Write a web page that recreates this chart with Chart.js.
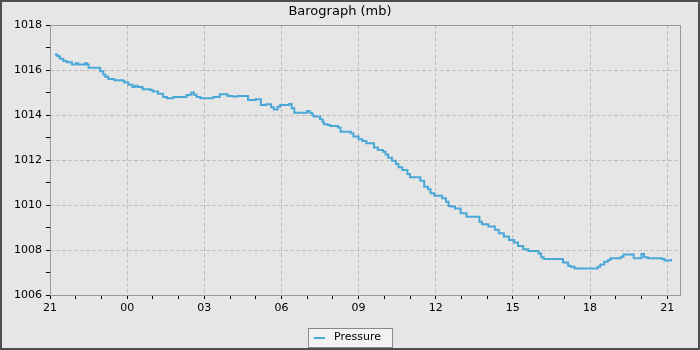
<!DOCTYPE html>
<html>
<head>
<meta charset="utf-8">
<script src="https://cdn.jsdelivr.net/npm/chart.js@4/dist/chart.umd.min.js"></script>
<style>
  html, body { margin: 0; padding: 0; background: #e6e6e6; }
  #wrap { width: 700px; height: 350px; }
</style>
</head>
<body>
<div id="wrap"><canvas id="grafico" width="700" height="350"></canvas></div>
<script>
// horas desde as 21:00 e pressão (mb)
const horas = [
  0.19, 0.25, 0.32, 0.39, 0.52, 0.65, 0.85, 1.0, 1.1, 1.36, 1.44, 1.5, 1.95, 2.07, 2.15, 2.27,
  2.5, 2.85, 2.9, 3.05, 3.2, 3.3, 3.4, 3.6, 3.9, 4.0, 4.2, 4.4, 4.55, 4.8, 5.3, 5.4,
  5.5, 5.6, 5.7, 5.85, 6.35, 6.6, 6.9, 7.1, 7.3, 7.7, 8.0, 8.2, 8.4, 8.6, 8.7, 8.85,
  8.95, 9.3, 9.4, 9.5, 10.0, 10.1, 10.2, 10.25, 10.5, 10.6, 10.65, 10.8, 10.9, 11.2, 11.3, 11.7,
  11.8, 12.0, 12.15, 12.3, 12.6, 12.75, 12.95, 13.05, 13.15, 13.3, 13.45, 13.55, 13.7, 13.9, 14.0, 14.4,
  14.55, 14.7, 14.8, 14.95, 15.25, 15.4, 15.5, 15.58, 15.75, 15.97, 16.2, 16.7, 16.8, 17.05, 17.3, 17.45,
  17.65, 17.85, 18.05, 18.2, 18.4, 18.6, 19.0, 19.1, 19.2, 19.95, 20.15, 20.25, 20.4, 21.3, 21.4, 21.55,
  21.7, 21.8, 22.2, 22.3, 22.7, 23.0, 23.1, 23.25, 23.8, 23.9, 24.15
];
const pressao = [
  1016.7, 1016.65, 1016.6, 1016.5, 1016.4, 1016.35, 1016.25, 1016.3, 1016.25, 1016.3, 1016.25, 1016.1, 1015.95, 1015.8, 1015.7, 1015.6,
  1015.55, 1015.5, 1015.45, 1015.35, 1015.25, 1015.3, 1015.25, 1015.15, 1015.1, 1015.05, 1014.95, 1014.8, 1014.75, 1014.8, 1014.88, 1014.9,
  1015.0, 1014.9, 1014.8, 1014.75, 1014.8, 1014.92, 1014.85, 1014.82, 1014.84, 1014.67, 1014.7, 1014.45, 1014.48, 1014.34, 1014.25, 1014.37,
  1014.44, 1014.49, 1014.3, 1014.1, 1014.18, 1014.1, 1014.0, 1013.93, 1013.81, 1013.7, 1013.59, 1013.56, 1013.51, 1013.44, 1013.26, 1013.19,
  1013.04, 1012.92, 1012.84, 1012.74, 1012.56, 1012.44, 1012.37, 1012.25, 1012.1, 1011.97, 1011.82, 1011.68, 1011.56, 1011.38, 1011.23, 1011.08,
  1010.81, 1010.7, 1010.52, 1010.41, 1010.3, 1010.15, 1009.96, 1009.93, 1009.85, 1009.63, 1009.48, 1009.26, 1009.14, 1009.04, 1008.9, 1008.74,
  1008.6, 1008.44, 1008.33, 1008.18, 1008.03, 1007.96, 1007.85, 1007.68, 1007.6, 1007.45, 1007.3, 1007.26, 1007.18, 1007.26, 1007.36, 1007.48,
  1007.56, 1007.63, 1007.7, 1007.8, 1007.63, 1007.82, 1007.68, 1007.63, 1007.6, 1007.53, 1007.6
];
// rótulos do eixo x, um a cada 3 horas
const rotulosHora = ['21', '00', '03', '06', '09', '12', '15', '18', '21'];

const corLinha = '#4aa8d8';
const fonte = 'DejaVu Sans';

// fundo, moldura da área do gráfico, borda externa e legenda
const molduraPlugin = {
  id: 'moldura',
  beforeDraw(chart) {
    const ctx = chart.ctx;
    ctx.save();
    ctx.fillStyle = '#e6e6e6';
    ctx.fillRect(0, 0, chart.width, chart.height);
    ctx.restore();
  },
  afterDraw(chart) {
    const ctx = chart.ctx;
    const a = chart.chartArea;
    ctx.save();
    ctx.strokeStyle = '#9a9a9a';
    ctx.lineWidth = 1;
    ctx.strokeRect(a.left + 0.5, a.top + 0.5, a.right - a.left, a.bottom - a.top);

    // legenda
    ctx.fillStyle = '#f2f2f2';
    ctx.fillRect(308.5, 328.5, 84, 19);
    ctx.strokeStyle = '#8a8a8a';
    ctx.strokeRect(308.5, 328.5, 84, 19);
    ctx.strokeStyle = corLinha;
    ctx.lineWidth = 2;
    ctx.beginPath();
    ctx.moveTo(314, 338);
    ctx.lineTo(325, 338);
    ctx.stroke();
    ctx.fillStyle = '#000';
    ctx.font = '11px "' + fonte + '"';
    ctx.textBaseline = 'middle';
    ctx.fillText(chart.data.datasets[0].label, 334, 337);

    // borda escura em volta da imagem
    ctx.strokeStyle = '#4f4f4f';
    ctx.lineWidth = 2;
    ctx.strokeRect(1, 1, chart.width - 2, chart.height - 2);
    ctx.restore();
  }
};

new Chart(document.getElementById('grafico'), {
  type: 'line',
  data: {
    datasets: [{
      label: 'Pressure',
      data: horas.map((h, i) => ({ x: h, y: pressao[i] })),
      borderColor: corLinha,
      backgroundColor: corLinha,
      borderWidth: 2,
      pointRadius: 0,
      stepped: true,
      fill: false
    }]
  },
  options: {
    responsive: false,
    animation: false,
    layout: { padding: { top: 0, right: 20, bottom: 0, left: 0 } },
    plugins: {
      legend: { display: false },
      tooltip: { enabled: false },
      title: {
        display: true,
        text: 'Barograph (mb)',
        color: '#000',
        font: { family: fonte, size: 13, weight: 'normal' },
        padding: { top: 4, bottom: 5.4 }
      }
    },
    scales: {
      x: {
        type: 'linear',
        min: 0,
        max: 24.5,
        afterFit(scale) { scale.height = 55; },
        // um tick por hora, de 0 a 24
        afterBuildTicks(scale) {
          scale.ticks = Array.from({ length: 25 }, (_, i) => ({ value: i }));
        },
        ticks: {
          autoSkip: false,
          maxRotation: 0,
          padding: 3,
          color: '#000',
          font: { family: fonte, size: 11 },
          callback: v => (v % 3 === 0 ? rotulosHora[v / 3] : '')
        },
        grid: {
          color: c => (c.tick && c.tick.value % 3 === 0 && c.tick.value > 0 ? '#c0c0c0' : 'rgba(0,0,0,0)'),
          tickColor: '#000',
          tickLength: 4,
          tickBorderDash: []
        },
        border: { display: false, dash: [4, 2] }
      },
      y: {
        min: 1006,
        max: 1018,
        afterFit(scale) { scale.width = 50; },
        ticks: {
          stepSize: 1,
          autoSkip: false,
          padding: 4,
          color: '#000',
          font: { family: fonte, size: 11 },
          callback: v => (v % 2 === 0 ? String(v) : '')
        },
        grid: {
          color: c => (c.tick && c.tick.value % 2 === 0 && c.tick.value > 1006 && c.tick.value < 1018 ? '#c0c0c0' : 'rgba(0,0,0,0)'),
          tickColor: '#000',
          tickLength: 4,
          tickBorderDash: []
        },
        border: { display: false, dash: [4, 2] }
      }
    }
  },
  plugins: [molduraPlugin]
});
</script>
</body>
</html>
